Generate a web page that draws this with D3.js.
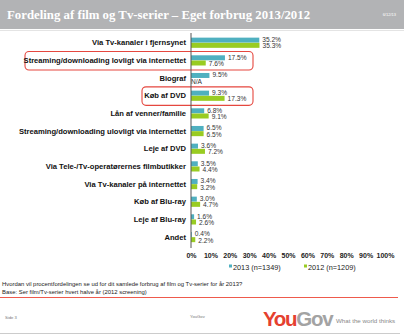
<!DOCTYPE html>
<html>
<head>
<meta charset="utf-8">
<script src="https://cdn.jsdelivr.net/npm/d3@7/dist/d3.min.js"></script>
<style>
  html, body { margin: 0; padding: 0; background: #fff; }
  svg { display: block; }
</style>
</head>
<body>
<svg id="chart" width="404" height="335"></svg>
<script>
// Spending split by channel, 2013 vs 2012 (percent)
const categories = [
  "Via Tv-kanaler i fjernsynet",
  "Streaming/downloading lovligt via internettet",
  "Biograf",
  "Køb af DVD",
  "Lån af venner/familie",
  "Streaming/downloading ulovligt via internettet",
  "Leje af DVD",
  "Via Tele-/Tv-operatørernes filmbutikker",
  "Via Tv-kanaler på internettet",
  "Køb af Blu-ray",
  "Leje af Blu-ray",
  "Andet"
];
const values2013 = [35.2, 17.5, 9.5, 9.3, 6.8, 6.5, 3.6, 3.5, 3.4, 3.0, 1.6, 0.4];
const values2012 = [35.3, 7.6, null, 17.3, 9.1, 6.5, 7.2, 4.4, 3.2, 4.7, 2.6, 2.2];
const seriesNames = ["2013 (n=1349)", "2012 (n=1209)"];
const xTicks = [0, 10, 20, 30, 40, 50, 60, 70, 80, 90, 100];
const highlighted = ["Streaming/downloading lovligt via internettet", "Køb af DVD"];

const colors = ["#4fb0c0", "#99cc22"];
const svg = d3.select("#chart");

// Header band
svg.append("rect").attr("x", 0).attr("y", 0).attr("width", 404).attr("height", 29).attr("fill", "#b2b3b5");
svg.append("line").attr("x1", 0).attr("x2", 404).attr("y1", 30.5).attr("y2", 30.5).attr("stroke", "#e4e4e4");
svg.append("text").attr("x", 7).attr("y", 19)
  .attr("font-family", "Liberation Serif, serif").attr("font-weight", "bold").attr("font-size", 12.8)
  .attr("fill", "#fff").text("Fordeling af film og Tv-serier – Eget forbrug 2013/2012");
svg.append("text").attr("x", 396).attr("y", 16).attr("text-anchor", "end")
  .attr("font-family", "Liberation Sans, sans-serif").attr("font-size", 4).attr("fill", "#fff").text("6/12/13");

// Scales
const x = d3.scaleLinear().domain([0, 100]).range([191, 385]);
const y = d3.scaleBand().domain(categories).range([34, 246]);
const barH = 5;

const g = svg.append("g");

// Highlight boxes around selected categories
const boxLeft = { "Streaming/downloading lovligt via internettet": 25, "Køb af DVD": 142 };
highlighted.forEach(c => {
  const cy = y(c) + y.bandwidth() / 2;
  g.append("rect")
    .attr("x", boxLeft[c]).attr("y", cy - 9)
    .attr("width", 253 - boxLeft[c]).attr("height", 18.5)
    .attr("rx", 4).attr("ry", 4)
    .attr("fill", "none").attr("stroke", "#e5473f").attr("stroke-width", 1.1);
});

// Bars
const rows = categories.map((c, i) => ({ c, v13: values2013[i], v12: values2012[i] }));
g.selectAll("rect.b13").data(rows).join("rect").attr("class", "b13")
  .attr("x", x(0)).attr("y", d => y(d.c) + y.bandwidth() / 2 - barH - 0.2)
  .attr("width", d => x(d.v13) - x(0)).attr("height", barH).attr("fill", colors[0]);
g.selectAll("rect.b12").data(rows.filter(d => d.v12 != null)).join("rect").attr("class", "b12")
  .attr("x", x(0)).attr("y", d => y(d.c) + y.bandwidth() / 2)
  .attr("width", d => x(d.v12) - x(0)).attr("height", barH).attr("fill", colors[1]);

// Value labels
const fmt = v => v.toFixed(1) + "%";
const lblFont = { family: "Liberation Sans, Arial, sans-serif", size: 6.6 };
g.selectAll("text.l13").data(rows).join("text").attr("class", "l13")
  .attr("x", d => x(d.v13) + 3).attr("y", d => y(d.c) + y.bandwidth() / 2 - 1)
  .attr("font-family", lblFont.family).attr("font-size", lblFont.size).attr("fill", "#333")
  .text(d => fmt(d.v13));
g.selectAll("text.l12").data(rows).join("text").attr("class", "l12")
  .attr("x", d => d.v12 == null ? x(0) : x(d.v12) + 3).attr("y", d => y(d.c) + y.bandwidth() / 2 + 5.5)
  .attr("font-family", lblFont.family).attr("font-size", lblFont.size).attr("fill", "#333")
  .text(d => d.v12 == null ? "N/A" : fmt(d.v12));

// Category axis
const yAxis = d3.axisLeft(y).tickSize(0).tickPadding(5);
const ya = svg.append("g").attr("transform", `translate(${x(0)},0)`).call(yAxis);
ya.select(".domain").attr("stroke", "#555").attr("d", "M0,33V248");
ya.selectAll("text").attr("font-family", "Liberation Sans, Arial, sans-serif")
  .attr("font-weight", "bold").attr("font-size", 7.6).attr("fill", "#111");

// Percent axis (labels only)
const xAxis = d3.axisBottom(x).tickValues(xTicks).tickFormat(d => d + "%").tickSize(0).tickPadding(0);
const xa = svg.append("g").attr("transform", "translate(0,253)").call(xAxis);
xa.select(".domain").remove();
xa.selectAll("text").attr("font-family", "Liberation Sans, Arial, sans-serif")
  .attr("font-weight", "bold").attr("font-size", 7).attr("fill", "#222");

// Legend
const legendX = [229, 304];
seriesNames.forEach((n, i) => {
  svg.append("rect").attr("x", legendX[i]).attr("y", 264.5).attr("width", 3).attr("height", 3).attr("fill", colors[i]);
  svg.append("text").attr("x", legendX[i] + 4).attr("y", 269.5)
    .attr("font-family", "Liberation Sans, Arial, sans-serif").attr("font-size", 7.3).attr("fill", "#222").text(n);
});

// Footnote
const foot = svg.append("g").attr("font-family", "Liberation Sans, Arial, sans-serif").attr("font-size", 5.9).attr("fill", "#222");
foot.append("text").attr("x", 2).attr("y", 286).text("Hvordan vil procentfordelingen se ud for dit samlede forbrug af film og Tv-serier for år 2013?");
foot.append("text").attr("x", 2).attr("y", 293.5).text("Base: Ser film/Tv-serier hvert halve år (2012 screening)");
svg.append("line").attr("x1", 0).attr("x2", 398).attr("y1", 297.5).attr("y2", 297.5).attr("stroke", "#ee5a4c").attr("stroke-width", 1);

// Page footer
svg.append("text").attr("x", 5).attr("y", 319).attr("font-family", "Liberation Sans, sans-serif").attr("font-size", 4.2).attr("fill", "#777").text("Side 3");
svg.append("text").attr("x", 190).attr("y", 318).attr("font-family", "Liberation Sans, sans-serif").attr("font-size", 4.2).attr("fill", "#777").text("YouGov");
const logo = svg.append("text").attr("x", 263).attr("y", 326)
  .attr("font-family", "Liberation Sans, Arial, sans-serif").attr("font-weight", "bold").attr("font-size", 20.5).attr("letter-spacing", -1.3);
logo.append("tspan").attr("fill", "#e5402f").text("You");
logo.append("tspan").attr("fill", "#a3a3a3").text("Gov");
svg.append("text").attr("x", 336).attr("y", 323).attr("font-family", "Liberation Sans, Arial, sans-serif")
  .attr("font-size", 6.2).attr("fill", "#888").text("What the world thinks");
svg.append("line").attr("x1", 0).attr("x2", 400).attr("y1", 333.5).attr("y2", 333.5).attr("stroke", "#ccc").attr("stroke-width", 1);
</script>
</body>
</html>
